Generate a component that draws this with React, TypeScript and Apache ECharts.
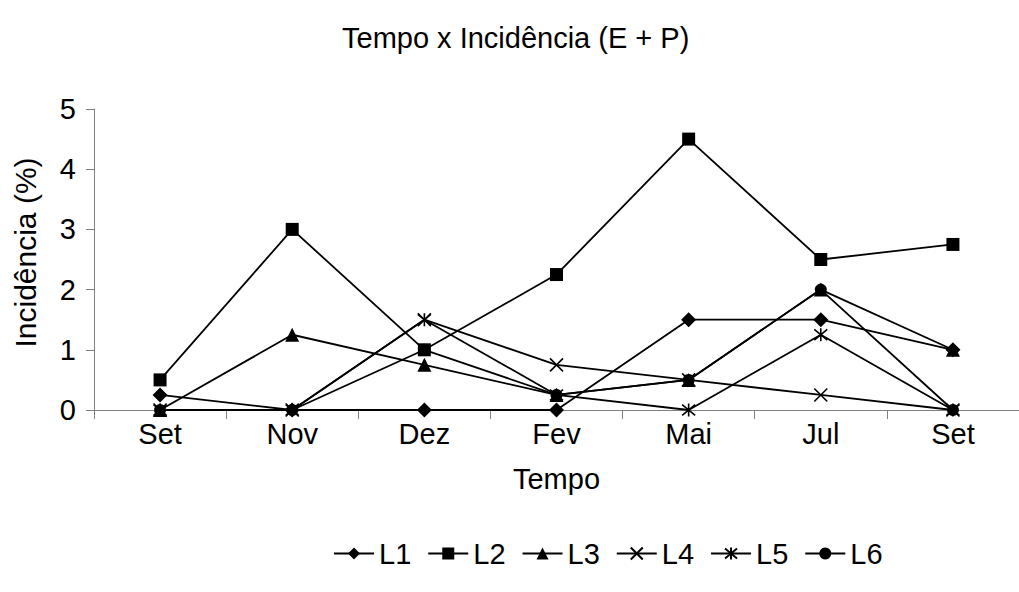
import React, { useEffect, useRef } from "react";
import * as echarts from "echarts";

const categories = ["Set", "Nov", "Dez", "Fev", "Mai", "Jul", "Set"];
const seriesNames = ["L1", "L2", "L3", "L4", "L5", "L6"];
const L1 = [0.25, 0, 0, 0, 1.5, 1.5, 1];
const L2 = [0.5, 3, 1, 2.25, 4.5, 2.5, 2.75];
const L3 = [0, 1.25, 0.75, 0.25, 0.5, 2, 1];
const L4 = [0, 0, 1.5, 0.75, 0.5, 0.25, 0];
const L5 = [0, 0, 1.5, 0.25, 0, 1.25, 0];
const L6 = [0, 0, 1, 0.25, 0.5, 2, 0];
const yTicks = [0, 1, 2, 3, 4, 5];

const FONT = "'Liberation Sans', Arial, sans-serif";
const X_PATH = "path://M0,0L10,10M10,0L0,10";
const STAR_PATH = "path://M0,0L10,10M10,0L0,10M5,-1L5,11";

export default function App() {
  const ref = useRef<HTMLDivElement>(null);
  useEffect(() => {
    if (!ref.current) return;
    const chart = echarts.init(ref.current, null, { renderer: "svg" });
    const values = [L1, L2, L3, L4, L5, L6];
    const symbols = ["diamond", "rect", "triangle", X_PATH, STAR_PATH, "circle"];
    const sizes = [15, 13, 14, 13, 13, 12];
    const series = values.map((v, i) => {
      const stroked = i === 3 || i === 4;
      return {
        name: seriesNames[i],
        type: "line",
        data: v,
        symbol: symbols[i],
        symbolSize: sizes[i],
        showAllSymbol: true,
        lineStyle: { color: "#000", width: 1.8 },
        itemStyle: stroked
          ? { color: "#000", borderColor: "#000", borderWidth: 1.6 }
          : { color: "#000", borderWidth: 0 },
      };
    });
    chart.setOption({
      animation: false,
      backgroundColor: "#fff",
      textStyle: { fontFamily: FONT },
      title: {
        text: "Tempo x Incidência (E + P)",
        left: 337,
        top: 18,
        textStyle: { fontFamily: FONT, fontSize: 29, fontWeight: "normal", color: "#000" },
      },
      legend: {
        data: seriesNames,
        left: 328,
        top: 534,
        itemWidth: 40,
        itemHeight: 15,
        itemGap: 16,
        textStyle: { fontFamily: FONT, fontSize: 29, color: "#000" },
      },
      grid: { left: 94, top: 109, right: -8, bottom: 182, containLabel: false },
      xAxis: {
        type: "category",
        data: categories,
        boundaryGap: true,
        name: "Tempo",
        nameLocation: "middle",
        nameGap: 54,
        nameTextStyle: { fontFamily: FONT, fontSize: 29, color: "#000" },
        axisLine: { lineStyle: { color: "#808080", width: 1 } },
        axisTick: { show: true, interval: 0, length: 9, lineStyle: { color: "#808080" } },
        axisLabel: { interval: 0, margin: 9, fontFamily: FONT, fontSize: 29, color: "#000" },
        splitLine: { show: false },
      },
      yAxis: {
        type: "value",
        min: yTicks[0],
        max: yTicks[yTicks.length - 1],
        interval: 1,
        name: "Incidência (%)",
        nameLocation: "middle",
        nameGap: 54,
        nameRotate: 90,
        nameTextStyle: { fontFamily: FONT, fontSize: 30, color: "#000", padding: [0, 0, 0, 14] },
        axisLine: { show: true, lineStyle: { color: "#808080", width: 1 } },
        axisTick: { show: true, length: 8, lineStyle: { color: "#808080" } },
        axisLabel: { margin: 18, fontFamily: FONT, fontSize: 29, color: "#000" },
        splitLine: { show: false },
      },
      series,
    });
    return () => chart.dispose();
  }, []);
  return (
    <div
      ref={ref}
      style={{ position: "absolute", left: 0, top: 0, width: 1019, height: 592 }}
    />
  );
}
